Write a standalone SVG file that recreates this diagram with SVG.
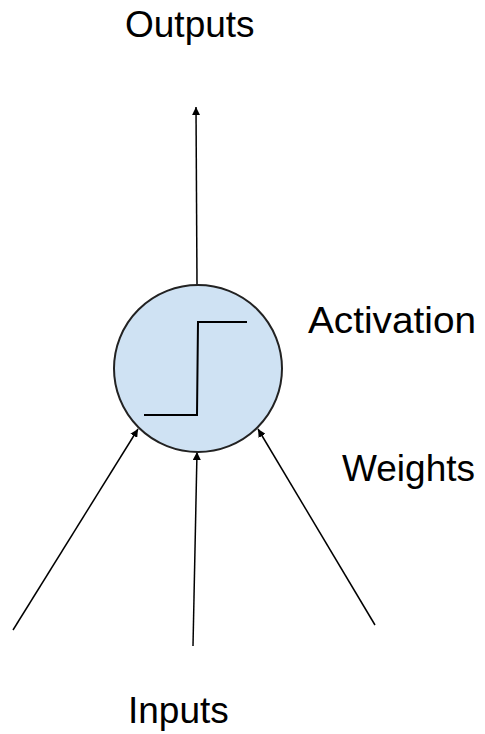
<svg xmlns="http://www.w3.org/2000/svg" width="485" height="734" viewBox="0 0 485 734">
<style>
.lbl{font-family:"Liberation Sans",Arial,sans-serif;font-size:37px;fill:#000}
.conn{stroke:#000;stroke-width:1.5;fill:none}
</style>
<defs>
<marker id="ah" viewBox="0 0 10 10" refX="10" refY="5" markerWidth="8" markerHeight="8" markerUnits="userSpaceOnUse" orient="auto">
<path d="M0,0 L10,5 L0,10 z" fill="#000"/>
</marker>
</defs>
<rect width="485" height="734" fill="#fff"/>
<g id="connectors">
<line class="conn" x1="197" y1="285" x2="196" y2="107" marker-end="url(#ah)"/>
<line class="conn" x1="13" y1="630" x2="138" y2="429" marker-end="url(#ah)"/>
<line class="conn" x1="193" y1="646" x2="197" y2="452" marker-end="url(#ah)"/>
<line class="conn" x1="375" y1="625" x2="258" y2="429" marker-end="url(#ah)"/>
</g>
<g id="neuron">
<ellipse cx="198" cy="368.5" rx="84" ry="83.5" fill="#cfe2f3" stroke="#222" stroke-width="2"/>
<polyline points="144,415 197,415 198,322 247,322" fill="none" stroke="#000" stroke-width="2"/>
</g>
<g id="outputs"><text class="lbl" x="125" y="37">Outputs</text></g>
<g id="activation"><text class="lbl" x="308" y="333" textLength="168" lengthAdjust="spacingAndGlyphs">Activation</text></g>
<g id="weights"><text class="lbl" x="342" y="481">Weights</text></g>
<g id="inputs"><text class="lbl" x="128" y="723">Inputs</text></g>
</svg>
